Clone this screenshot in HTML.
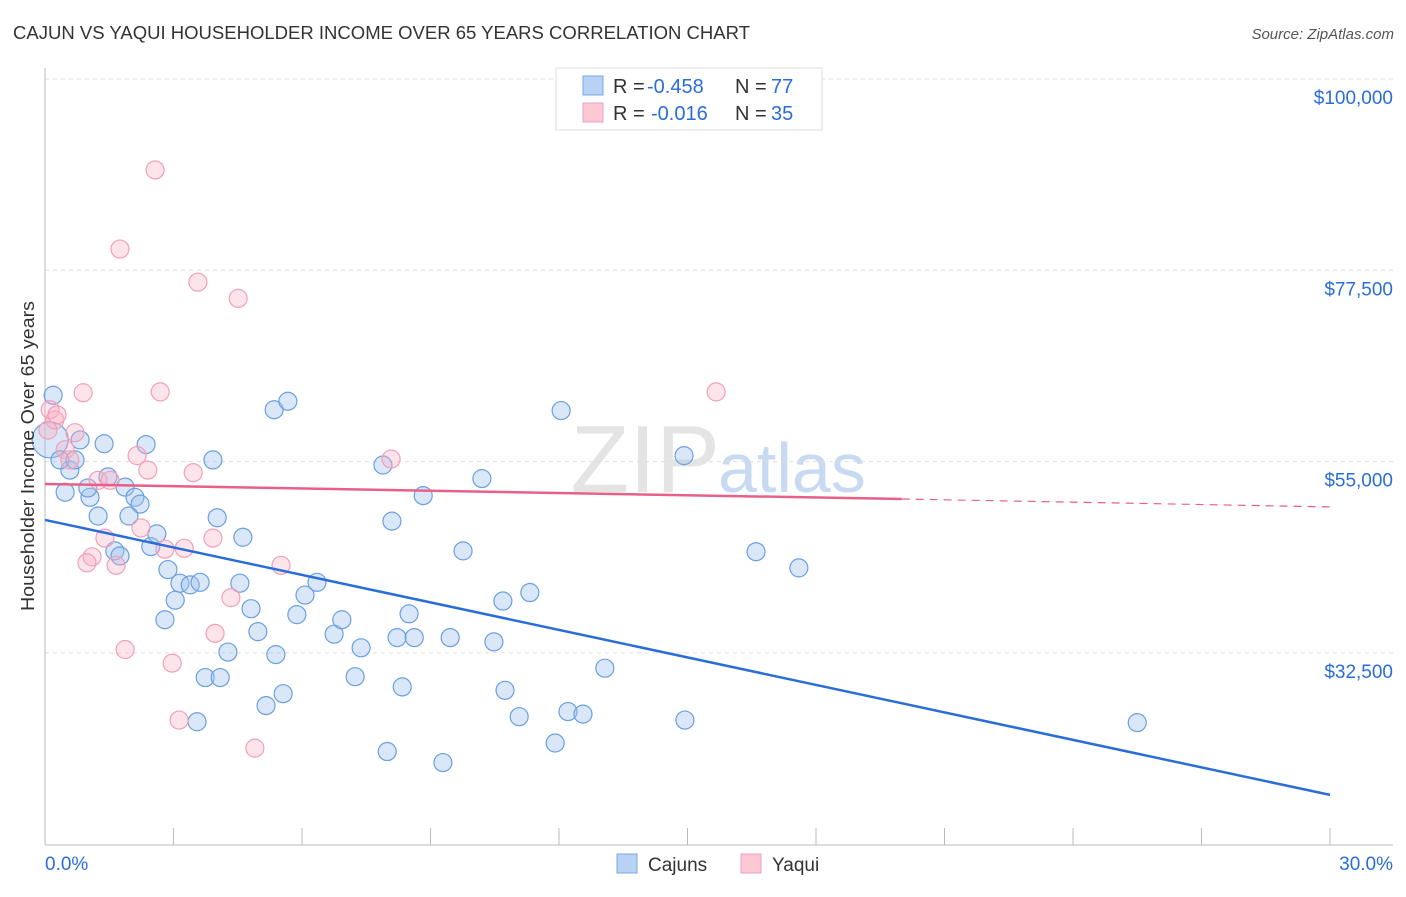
<!DOCTYPE html>
<html><head><meta charset="utf-8"><style>
body{margin:0;background:#fff;font-family:"Liberation Sans",sans-serif;}
svg text{font-family:"Liberation Sans",sans-serif;}
</style></head><body>
<svg id="chart" width="1406" height="892">
<text x="13" y="39" font-size="18" fill="#333" textLength="737" lengthAdjust="spacingAndGlyphs">CAJUN VS YAQUI HOUSEHOLDER INCOME OVER 65 YEARS CORRELATION CHART</text>
<text x="1394" y="39" font-size="15" fill="#555" text-anchor="end" font-style="italic">Source: ZipAtlas.com</text>
<text x="720" y="492" font-size="96" fill="#e4e4e4" text-anchor="end" font-family="Liberation Serif">ZIP</text>
<text x="718" y="492" font-size="70" fill="#c8daf2">atlas</text>
<g id="grid"></g>
<g id="axes"></g>
<g id="pts"></g>
<g id="lines"></g>
<text transform="translate(34,456) rotate(-90)" font-size="18" fill="#333" text-anchor="middle" textLength="310" lengthAdjust="spacingAndGlyphs">Householder Income Over 65 years</text>
<g>
<rect x="556" y="68" width="266" height="62" fill="#fff" stroke="#ddd"/>
<rect x="583" y="76" width="20" height="19" fill="#b8d2f5" stroke="#7aa7e3"/>
<rect x="583" y="103" width="20" height="19" fill="#fcc8d6" stroke="#f0a0b8"/>
<text x="613" y="93" font-size="20" fill="#333">R =</text>
<text x="647" y="93" font-size="20" fill="#2a6dd9">-0.458</text>
<text x="735" y="93" font-size="20" fill="#333">N =</text>
<text x="771" y="93" font-size="20" fill="#2a6dd9">77</text>
<text x="613" y="120" font-size="20" fill="#333">R =</text>
<text x="651" y="120" font-size="20" fill="#2a6dd9">-0.016</text>
<text x="735" y="120" font-size="20" fill="#333">N =</text>
<text x="771" y="120" font-size="20" fill="#2a6dd9">35</text>
</g>
<g>
<rect x="617" y="854" width="20" height="19" fill="#b8d2f5" stroke="#7aa7e3"/>
<text x="648" y="871" font-size="19" fill="#333">Cajuns</text>
<rect x="741" y="854" width="20" height="19" fill="#fcc8d6" stroke="#f0a0b8"/>
<text x="772" y="871" font-size="19" fill="#333">Yaqui</text>
</g>
</svg>
<script>
const yTicks=[100000,77500,55000,32500];
const yTickLabels=["$100,000","$77,500","$55,000","$32,500"];
const xTickVals=[0,3,6,9,12,15,18,21,24,27,30];
const cajunX=[0.19,0.12,0.58,0.82,0.35,0.70,0.47,1.05,1.00,1.38,1.24,1.47,1.87,2.10,2.22,1.96,2.36,1.63,1.75,2.47,2.61,2.87,3.04,2.80,3.15,3.39,3.62,3.92,4.02,4.62,4.55,4.81,4.97,4.27,3.74,4.09,3.55,5.16,5.56,5.39,5.35,5.67,5.88,6.07,6.35,6.75,6.93,7.38,7.24,7.89,8.10,8.22,8.50,8.62,8.34,7.99,8.83,9.29,9.46,9.76,10.20,10.48,10.69,10.74,11.07,11.32,11.91,12.05,12.21,12.56,13.07,14.92,14.94,16.60,17.60,25.50];
const cajunY=[62800,57550,54000,57550,55200,55200,51400,50800,51900,57100,48600,53200,52000,50800,50000,48600,57000,44500,43900,45000,46500,42300,38700,36400,40700,40500,40800,55200,48400,46100,40700,37700,35000,32600,29600,29600,24400,26300,27700,32300,61100,62100,37000,39300,40800,34700,36400,33100,29700,54600,48000,34300,37100,34300,28500,20900,51000,19600,34300,44500,53000,33800,38600,28100,25000,39600,21900,61000,25600,25300,30700,55700,24600,44400,42500,24300];
const yaquiX=[0.12,0.23,0.28,0.07,0.47,0.58,0.70,0.89,1.24,1.52,1.40,1.10,0.98,1.66,1.87,1.75,2.15,2.24,2.40,2.57,2.69,2.80,2.97,3.13,3.25,3.46,3.57,3.92,3.97,4.34,4.51,4.90,5.51,8.08,15.67];
const yaquiY=[61100,59900,60500,58700,56400,55200,58400,63100,52800,52800,46000,43800,43100,42800,32900,80000,55700,47200,54000,89300,63200,44700,31300,24600,44800,53700,76100,46000,34800,39000,74200,21300,42800,55300,63200];
const cajunTrend=[48140,15800];
const yaquiTrend=[52370,50600,49670];
const NS="http://www.w3.org/2000/svg";
const X0=45,X1=1330,Y0=79,PX=191.3/22500;
const sx=v=>X0+(v/30)*(X1-X0);
const sy=v=>Y0+(100000-v)*PX;
function mk(tag,attrs,parent){const e=document.createElementNS(NS,tag);for(const k in attrs)e.setAttribute(k,attrs[k]);parent.appendChild(e);return e;}
const grid=document.getElementById('grid'),axes=document.getElementById('axes'),pts=document.getElementById('pts'),lines=document.getElementById('lines');
yTicks.forEach((t,i)=>{
 const l=mk('line',{x1:45,x2:1393,y1:sy(t),y2:sy(t),stroke:'#ddd','stroke-dasharray':'4,4'},grid);
 
 
 const tx=mk('text',{x:1393,y:sy(t)+25,'font-size':19,fill:'#2a6dd9','text-anchor':'end'},axes);
 tx.textContent=yTickLabels[i];
 
 
});
const ya=mk('line',{x1:45,x2:45,y1:68,y2:845,stroke:'#bbb'},axes);


const xa=mk('line',{x1:45,x2:1393,y1:845,y2:845,stroke:'#bbb'},axes);


xTickVals.forEach(v=>{
 const t=mk('line',{x1:sx(v),x2:sx(v),y1:828,y2:845,stroke:'#bbb'},axes);
 
 
});
[[0,'0.0%','start',45],[30,'30.0%','end',1393]].forEach(a=>{
 const t=mk('text',{x:a[3],y:870,'font-size':19,fill:'#2a6dd9','text-anchor':a[2]},axes);
 t.textContent=a[1];
 
 
});
cajunX.forEach((x,i)=>{
 const c=mk('circle',{cx:sx(x),cy:sy(cajunY[i]),r:i===1?18:9,fill:'rgba(160,195,240,0.4)',stroke:'#6a9fe0','stroke-width':1.2},pts);
 
 
});
yaquiX.forEach((x,i)=>{
 const c=mk('circle',{cx:sx(x),cy:sy(yaquiY[i]),r:9,fill:'rgba(248,175,195,0.35)',stroke:'#f0a0b8','stroke-width':1.2},pts);
 
 
});
const bl=mk('line',{x1:sx(0),y1:sy(cajunTrend[0]),x2:sx(30),y2:sy(cajunTrend[1]),stroke:'#2a6dd9','stroke-width':2.5},lines);


const pl=mk('line',{x1:sx(0),y1:sy(yaquiTrend[0]),x2:sx(20),y2:sy(yaquiTrend[1]),stroke:'#e8608a','stroke-width':2.5},lines);


const pd=mk('line',{x1:sx(20),y1:sy(yaquiTrend[1]),x2:sx(30),y2:sy(yaquiTrend[2]),stroke:'#e8608a','stroke-width':1.2,'stroke-dasharray':'8,6'},lines);


</script>
</body></html>
